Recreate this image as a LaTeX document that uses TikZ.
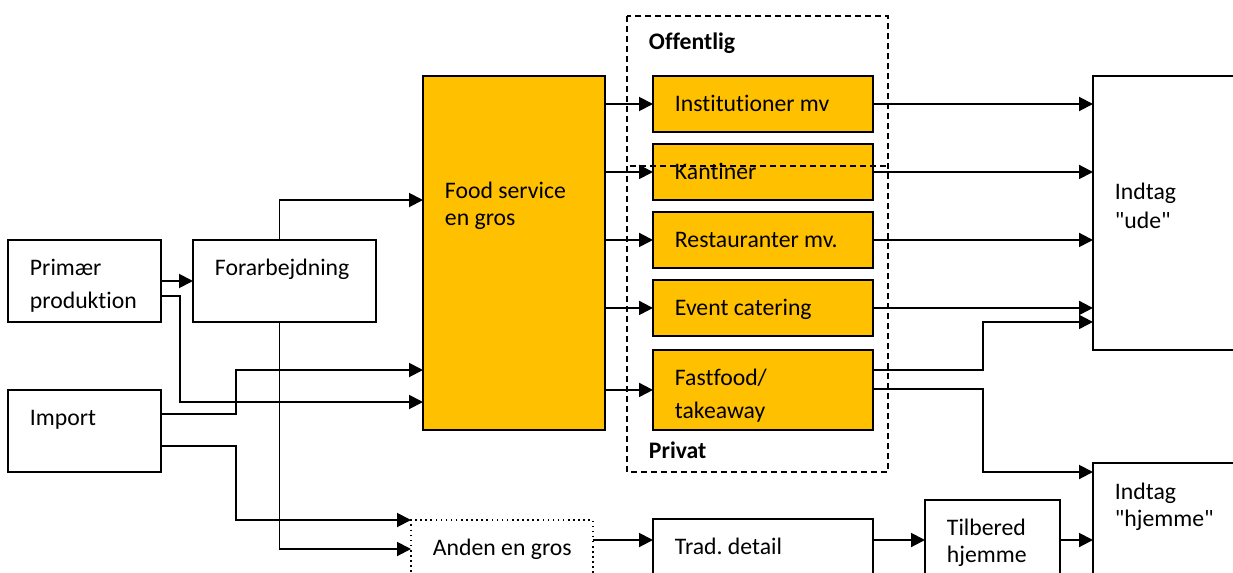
\documentclass[tikz,border=0pt]{standalone}
\usepackage{fontspec}
\setmainfont{Carlito}[Ligatures={TeXOff,CommonOff}]
\usetikzlibrary{arrows.meta,positioning,calc}
\definecolor{wordgold}{RGB}{255,192,0}

\begin{document}
\frenchspacing
\begin{tikzpicture}[x=0.02cm, y=-0.02cm, line width=1.1pt,
   >={Triangle[length=0.28cm,width=0.28cm]},
   box/.style={draw, rectangle, anchor=north west, inner sep=0pt, outer sep=0pt},
   gold/.style={box, fill=wordgold, minimum width=4.4cm, minimum height=1.12cm},
   txt/.style={anchor=north west, inner sep=0pt, align=left, xshift=0.42cm, yshift=-0.22cm,
      font=\fontsize{13.5}{18.8}\selectfont, execute at begin node=\strut},
   tight/.style={txt, font=\fontsize{13.5}{15.9}\selectfont},
   head/.style={anchor=base west, inner sep=0pt, font=\fontsize{13.5}{18.8}\selectfont\bfseries},
   grp/.style={line width=1pt, dash pattern=on 0.12cm off 0.08cm}]
   \useasboundingbox (0,0) rectangle (1233,572);
   % sources
   \node (prim) at (8,240) [box, minimum width=3.06cm, minimum height=1.64cm,
      label={[txt]north west:\strut Primær\\produktion}] {};
   \node (forarb) at (193,240) [box, minimum width=3.66cm, minimum height=1.64cm,
      label={[txt]north west:Forarbejdning}] {};
   \node (imp) at (8,390) [box, minimum width=3.06cm, minimum height=1.64cm,
      label={[txt]north west:Import}] {};
   \node (food) at (423,76) [box, fill=wordgold, minimum width=3.64cm, minimum height=7.08cm,
      label={[txt, font=\fontsize{13.5}{15.4}\selectfont, yshift=-1.84cm]north west:\strut Food service\\en gros}] {};
   % food service outlets
   \node (inst) at (653,76) [gold, label={[txt]north west:Institutioner mv}] {};
   \node (kant) [gold, below=0.24cm of inst, label={[txt]north west:Kantiner}] {};
   \node (rest) [gold, below=0.24cm of kant, label={[txt]north west:Restauranter mv.}] {};
   \node (event) [gold, below=0.24cm of rest, label={[txt]north west:Event catering}] {};
   \node (fast) [gold, below=0.28cm of event, minimum height=1.6cm,
      label={[txt]north west:\strut Fastfood/\\takeaway}] {};
   % intake
   \node (ude) at (1093,76) [box, minimum width=4.14cm, minimum height=5.48cm,
      label={[tight, font=\fontsize{13.5}{16.5}\selectfont, yshift=-1.82cm]north west:\strut Indtag\\\textquotedbl ude\textquotedbl}] {};
   \node (hjem) at (1093,463) [box, minimum width=4.14cm, minimum height=3.2cm,
      label={[tight, yshift=-0.09cm]north west:\strut Indtag\\\textquotedbl hjemme\textquotedbl}] {};
   \node (tilb) at (925,500) [box, minimum width=2.7cm, minimum height=2cm,
      label={[tight, yshift=-0.07cm]north west:\strut Tilbered\\hjemme}] {};
   \node (trad) at (653,519) [box, minimum width=4.4cm, minimum height=1.6cm,
      label={[txt]north west:Trad. detail}] {};
   \node (anden) at (411,520) [box, dotted, line width=0.9pt, minimum width=3.64cm, minimum height=1.6cm,
      label={[txt]north west:Anden en gros}] {};

   \draw (prim)[->] -- (forarb);
   \draw ($(forarb.north)+(-5,0)$)[->] |- ($(food.north west)+(0,124)$);
   \draw ($(forarb.south)+(-5,0)$)[->] |- ($(anden.north west)+(0,29)$);
   \draw ($(prim.north east)+(0,56)$)[->] -- ++(19,0) |- ($(food.north west)+(0,326)$);
   \draw ($(imp.north east)+(0,24)$)[->] -- ++(75,0) |- ($(food.north west)+(0,294)$);
   \draw ($(imp.north east)+(0,56)$)[->] -- ++(75,0) |- (anden.north west);
   \foreach \s in {inst,kant,rest,event,fast}
      \draw (food.east |- \s)[->] -- (\s);
   \foreach \s in {inst,kant,rest,event}
      \draw (\s)[->] -- (ude.west |- \s);
   \draw ($(fast.north east)+(0,20)$)[->] -- ++(110,0) |- ($(ude.south west)+(0,-28)$);
   \draw ($(fast.north east)+(0,39)$)[->] -- ++(110,0) |- ($(hjem.north west)+(0,9)$);
   \draw ($(anden.north east)+(0,20)$)[->] -- ($(trad.north west)+(0,21)$);
   \draw ($(trad.north east)+(0,21)$)[->] -- ($(tilb.north west)+(0,40)$);
   \draw ($(tilb.north east)+(0,40)$)[->] -- ($(hjem.north west)+(0,77)$);

   % public / private frame
   \draw[grp] (627,16) rectangle (888,472);
   \draw[grp] (630,166) -- (888,166);
   \node (off) at (648,49) [head] {Offentlig};
   \node (priv) at (648,458) [head] {Privat};
\end{tikzpicture}
\end{document}
